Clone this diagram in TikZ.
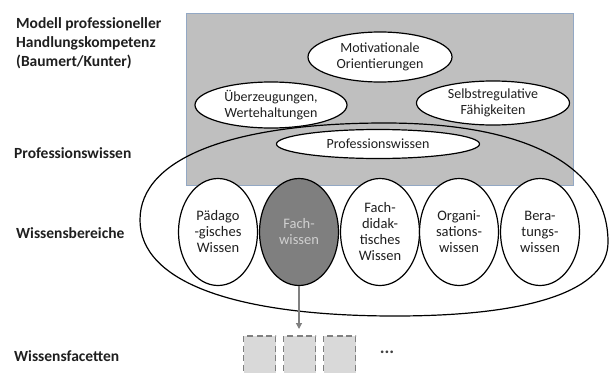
\documentclass[tikz,border=0pt]{standalone}
\usepackage{fontspec}
\setmainfont{Carlito}
\usetikzlibrary{shapes.geometric,arrows.meta}
\definecolor{txt}{HTML}{1F1F1F}
\definecolor{panel}{HTML}{BFBFBF}
\definecolor{panelline}{HTML}{93A8C4}
\definecolor{darkfill}{HTML}{7F7F7F}
\definecolor{lighttxt}{HTML}{D0D0D0}
\definecolor{facet}{HTML}{D9D9D9}
\definecolor{facetline}{HTML}{808080}
\tikzset{
  level/.style={anchor=west, font=\fontsize{15.5}{19}\selectfont\bfseries, text=txt, align=left, inner sep=0pt},
  bigoval/.style={ellipse, draw=black, line width=1.2pt, fill=white, text=txt, align=center, inner sep=0pt,
    font=\fontsize{14}{15.5}\selectfont},
  areaoval/.style={ellipse, draw=black, line width=1.2pt, fill=white, text=txt, align=center, inner sep=0pt,
    minimum width=79pt, minimum height=107pt, font=\fontsize{14.5}{16}\selectfont},
  facetbox/.style={draw=facetline, fill=facet, dashed, dash pattern=on 6pt off 3.5pt, line width=1.6pt,
    minimum width=32pt, minimum height=50pt, inner sep=0pt}
}
\begin{document}
\begin{tikzpicture}[x=1pt,y=-1pt]
\useasboundingbox (0,0) rectangle (609,372);
\clip (0,0) rectangle (609,372);

% left-hand level labels
\node[level] (lmodel) at (16,43) {Modell professioneller\\Handlungskompetenz\\(Baumert/Kunter)};
\node[level] (lprof) at (14,153) {Professionswissen};
\node[level] (lbereich) at (16,233) {Wissensbereiche};
\node[level] (lfacet) at (14,356) {Wissensfacetten};

% grey panel of the competence model
\node[draw=panelline, fill=panel, line width=0.9pt, minimum width=387pt, minimum height=172pt, inner sep=0pt]
  (panel) at (379.5,99) {};

% outline enclosing the knowledge areas
\draw[line width=1.2pt] (140,220)
  .. controls (140,157) and (235,123) .. (385,123)
  .. controls (530,123) and (608,168) .. (608,242)
  .. controls (608,290) and (533,316) .. (395,316)
  .. controls (235,316) and (140,282) .. (140,220) -- cycle;

% components of the model
\node[bigoval, minimum width=144pt, minimum height=50pt] (motiv) at (380,57) {Motivationale\\Orientierungen};
\node[bigoval, minimum width=152pt, minimum height=46pt] (ueber) at (271,105) {Überzeugungen,\\Wertehaltungen};
\node[bigoval, minimum width=153pt, minimum height=44pt] (selbst) at (493,103) {Selbstregulative\\Fähigkeiten};
\node[bigoval, minimum width=203pt, minimum height=29pt] (prof) at (378,144) {Professionswissen};

% knowledge areas
\node[areaoval] (paed) at (218,232) {Pädago\\-gisches\\Wissen};
\node[areaoval, fill=darkfill, text=lighttxt] (fach) at (299,232) {Fach-\\wissen};
\node[areaoval] (fdid) at (380,232) {Fach-\\didak-\\tisches\\Wissen};
\node[areaoval] (orga) at (459,232) {Organi-\\sations-\\wissen};
\node[areaoval] (bera) at (540,232) {Bera-\\tungs-\\wissen};

% knowledge facets
\node[facetbox] (f1) at (259.5,361) {};
\node[facetbox] (f2) at (299.5,361) {};
\node[facetbox] (f3) at (339.5,361) {};
\node[text=txt!85, font=\fontsize{18}{18}\selectfont\bfseries, inner sep=0pt] (dots) at (387,352) {...};

\coordinate (arrowend) at (299,329);
\draw[facetline, line width=1.2pt, -{Triangle[length=6pt,width=6pt]}] (fach.south) -- (arrowend);
\end{tikzpicture}
\end{document}
